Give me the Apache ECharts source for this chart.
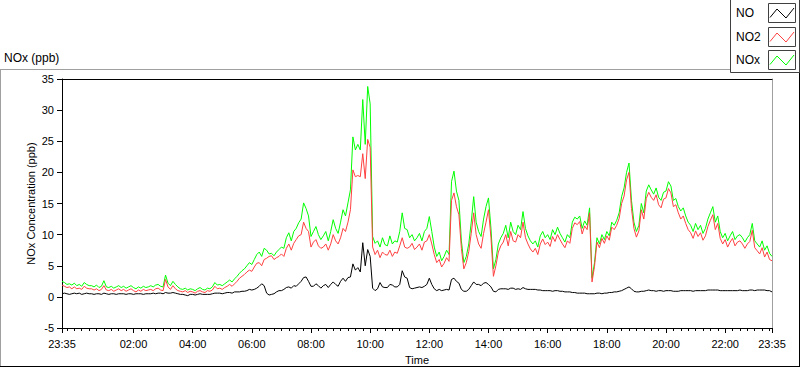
<!DOCTYPE html>
<html><head><meta charset="utf-8">
<script src="https://cdn.jsdelivr.net/npm/echarts@6/dist/echarts.min.js"></script>
<style>html,body{margin:0;padding:0;background:#fff}#c{width:800px;height:369px}</style>
</head><body><div id="c"></div>
<script>
// ---- data (5-minute samples from 23:35 to 23:35) ----
const startTime = '23:35';
const stepMinutes = 5;
const xTickLabels = ['23:35','02:00','04:00','06:00','08:00','10:00','12:00','14:00','16:00','18:00','20:00','22:00','23:35'];
const yMin = -5, yMax = 35, yStep = 5;
const seriesNames = ['NO', 'NO2', 'NOx'];
const seriesColors = ['#000000', '#ff4040', '#00ff00'];

const NOx = [
 2.5,2.3,2.0,2.1,1.9,2.2,1.8,2.0,1.7,2.3,2.0,1.8,
 1.8,1.6,1.9,1.5,1.7,2.6,1.6,1.5,1.7,1.4,1.6,1.8,
 1.5,1.7,1.4,1.6,1.8,1.5,1.3,1.6,1.4,1.7,1.5,1.6,
 1.8,1.6,1.9,2.0,1.7,1.6,3.5,2.2,1.8,2.5,2.0,1.6,
 1.3,1.2,1.4,1.1,1.3,1.2,1.0,1.3,1.5,1.2,1.1,1.4,
 1.3,1.6,2.3,1.9,2.0,1.8,2.1,2.4,2.7,2.4,2.9,3.3,
 3.8,4.2,4.5,5.0,5.5,5.2,6.0,6.8,7.2,6.5,7.8,7.5,
 6.9,7.0,6.6,7.2,7.6,8.0,7.8,9.5,10.3,9.0,10.5,11.0,
 11.9,12.5,15.1,14.2,13.0,9.7,10.5,11.3,10.0,9.2,9.8,10.5,
 9.0,10.5,12.4,11.0,10.2,12.0,14.0,13.0,15.1,17.2,25.7,23.6,
 24.5,23.6,31.7,24.5,33.8,31.0,9.7,8.6,9.0,8.0,9.5,8.4,
 8.2,9.8,8.5,9.0,8.8,10.5,13.5,11.0,10.8,9.5,10.0,9.0,
 9.5,10.2,9.0,10.5,11.0,12.9,10.5,8.0,6.5,7.2,5.8,6.5,
 7.5,6.8,18.5,20.2,17.0,15.5,9.0,5.5,6.5,8.5,12.0,16.1,
 12.0,10.5,9.7,12.5,14.5,15.9,11.0,4.5,6.0,8.5,9.5,10.2,
 11.5,9.5,12.0,10.5,10.0,11.5,10.8,13.7,11.0,9.8,9.0,8.5,
 9.0,8.0,9.8,10.5,9.5,10.0,9.2,10.8,10.0,11.2,10.2,9.5,
 8.8,10.0,9.5,12.0,12.8,12.5,13.0,11.0,12.2,11.5,14.3,3.0,
 5.5,9.5,8.5,10.0,9.2,10.5,9.8,12.0,11.5,12.3,13.5,16.1,
 17.5,20.0,21.5,15.5,12.0,10.5,11.5,15.0,13.5,17.0,18.0,17.2,
 16.5,17.5,16.0,15.5,16.8,17.0,18.5,17.8,15.5,15.8,14.5,13.8,
 14.3,13.0,12.0,11.5,10.5,11.8,10.8,11.5,10.2,11.0,12.5,13.5,
 14.5,12.0,13.0,10.5,9.5,10.2,9.0,9.8,10.5,9.2,9.8,10.0,
 9.5,8.8,9.5,10.0,11.8,9.0,8.5,8.0,9.0,7.5,8.2,7.0,
 6.5
];
const NO2 = [
 1.9,1.7,1.5,1.6,1.3,1.6,1.3,1.4,1.2,1.7,1.4,1.3,
 1.3,1.1,1.3,1.0,1.2,1.8,1.1,1.0,1.2,0.9,1.1,1.3,
 1.0,1.2,0.9,1.1,1.3,1.0,0.8,1.1,0.9,1.2,1.0,1.1,
 1.2,1.0,1.3,1.4,1.1,1.0,2.8,1.6,1.2,1.8,1.3,1.0,
 0.9,0.8,1.0,0.7,0.9,0.8,0.6,0.9,1.0,0.8,0.7,1.0,
 0.9,1.1,1.7,1.3,1.4,1.2,1.5,1.7,2.0,1.7,2.1,2.5,
 3.0,3.3,3.6,4.0,4.3,4.1,4.8,5.4,5.5,5.0,6.0,6.2,
 6.5,6.6,6.0,6.3,6.5,6.9,6.5,7.8,8.5,7.5,8.6,9.2,
 9.8,10.0,12.0,11.0,10.5,8.0,8.8,9.2,8.2,7.8,8.0,8.5,
 7.5,8.5,10.0,9.0,8.5,9.5,11.0,10.5,12.0,14.0,20.4,19.3,
 19.5,19.3,23.0,19.0,25.3,24.0,8.0,6.8,7.5,6.3,7.2,6.8,
 6.7,7.5,6.5,7.2,7.0,8.2,9.5,8.0,7.8,8.0,8.6,7.6,
 8.0,8.5,7.5,8.8,9.0,10.0,8.5,6.8,5.5,6.0,4.8,5.4,
 6.3,5.7,15.5,16.7,14.5,13.2,7.8,4.5,5.5,7.3,10.2,13.5,
 10.0,8.5,7.8,10.2,12.0,14.0,9.5,3.3,5.0,7.2,8.2,8.8,
 10.0,8.2,10.5,9.0,8.8,10.0,9.5,12.0,9.5,8.5,7.7,7.2,
 7.8,6.8,8.5,9.3,8.4,8.8,8.1,9.7,8.9,10.0,9.2,8.5,
 7.9,9.0,8.6,11.0,11.9,11.6,12.1,10.1,11.4,10.8,13.5,2.4,
 4.9,8.8,7.9,9.4,8.6,9.8,9.1,11.2,10.8,11.5,12.6,15.0,
 16.2,18.8,20.0,14.2,11.0,9.6,10.6,14.0,12.5,15.8,16.8,16.0,
 15.5,16.4,14.8,14.3,15.7,15.9,17.4,16.7,14.5,14.8,13.5,12.5,
 13.0,11.8,10.8,10.3,9.4,10.6,9.7,10.3,9.1,9.8,11.3,12.3,
 13.2,10.8,11.8,9.4,8.5,9.2,8.0,8.8,9.4,8.2,8.8,9.0,
 8.5,7.8,8.5,8.9,10.7,7.9,7.4,6.9,7.9,6.4,7.2,6.0,
 5.8
];
const NO = [
 0.5,0.6,0.5,0.4,0.5,0.6,0.5,0.6,0.4,0.5,0.6,0.5,
 0.5,0.4,0.5,0.5,0.4,0.6,0.5,0.4,0.5,0.5,0.4,0.5,
 0.5,0.5,0.4,0.5,0.5,0.4,0.5,0.5,0.5,0.4,0.5,0.5,
 0.5,0.6,0.5,0.6,0.6,0.5,0.7,0.6,0.6,0.7,0.6,0.5,
 0.4,0.4,0.3,0.2,0.4,0.4,0.3,0.4,0.5,0.4,0.4,0.4,
 0.4,0.5,0.6,0.6,0.6,0.5,0.6,0.7,0.7,0.6,0.8,0.8,
 0.8,0.9,0.9,1.0,1.2,1.1,1.2,1.4,1.7,2.1,1.8,0.6,
 0.3,0.4,0.5,0.8,1.0,1.0,1.2,1.5,1.6,1.4,1.8,1.7,
 2.1,2.5,3.1,3.2,2.5,1.7,1.7,2.1,1.8,1.4,1.8,2.0,
 1.5,2.0,2.4,2.0,1.7,2.5,3.0,2.5,3.1,3.2,5.3,4.3,
 4.7,4.0,8.7,5.0,7.6,6.5,1.4,1.0,1.3,2.3,1.6,1.5,
 1.5,2.0,1.9,1.6,1.6,2.0,4.2,3.2,3.0,1.5,1.3,1.4,
 1.5,1.6,1.5,1.7,2.0,3.0,2.0,1.3,1.0,1.2,1.0,1.1,
 1.2,1.1,2.8,3.0,2.5,2.2,1.2,0.9,0.9,1.2,1.8,2.4,
 2.0,2.0,1.8,2.2,2.3,2.0,1.6,0.9,0.8,1.2,1.3,1.3,
 1.3,1.2,1.4,1.4,1.2,1.3,1.2,1.5,1.3,1.2,1.2,1.2,
 1.2,1.1,1.1,1.0,1.0,1.0,1.0,0.9,1.0,1.0,0.9,0.9,
 0.8,0.8,0.8,0.7,0.7,0.6,0.6,0.6,0.6,0.5,0.5,0.5,
 0.5,0.6,0.6,0.5,0.6,0.6,0.7,0.7,0.8,0.8,0.9,1.0,
 1.2,1.4,1.6,1.3,0.9,0.8,0.8,0.9,0.9,1.0,1.1,1.0,
 1.0,0.9,1.0,1.0,0.9,1.0,1.0,1.0,0.9,0.9,0.9,1.0,
 1.0,1.0,1.0,1.0,0.9,1.0,1.0,1.0,1.0,1.0,1.1,1.1,
 1.1,1.1,1.1,1.0,1.0,1.0,1.0,1.0,1.0,1.0,1.0,1.1,
 1.0,1.0,1.0,1.1,1.1,1.0,1.1,1.1,1.1,1.1,1.0,1.0,
 0.8
];

// ---- chart ----
const FONT = "'Liberation Sans', Arial, sans-serif";
const pad = n => (n < 10 ? '0' : '') + n;
const [sh, sm] = startTime.split(':').map(Number);
const times = NO.map((_, i) => {
  const m = (sh * 60 + sm + i * stepMinutes) % 1440;
  return pad(Math.floor(m / 60)) + ':' + pad(m % 60);
});
const isMajor = (i, v) => xTickLabels.indexOf(v) >= 0;
const isMinor = (i, v) => (+String(v).split(':')[1]) % 15 === 0;

const chart = echarts.init(document.getElementById('c'), null, { renderer: 'svg', width: 800, height: 369 });

const legendRows = seriesNames.map((n, i) => ({ name: n, color: seriesColors[i], top: [3, 27, 50][i] }));
const legendGraphics = [{
  type: 'rect', shape: { x: 730.5, y: -1, width: 69, height: 73.5 },
  style: { fill: '#fff', stroke: '#404040', lineWidth: 1 }, z: 10
}];
legendRows.forEach(r => {
  legendGraphics.push({ type: 'text', x: 736, y: r.top + 10, z: 11,
    style: { text: r.name, font: '12px ' + FONT, fill: '#000', verticalAlign: 'middle' } });
  legendGraphics.push({ type: 'rect', shape: { x: 768.5, y: r.top + 0.5, width: 27, height: 19 }, z: 11,
    style: { fill: '#fff', stroke: '#404040', lineWidth: 1 } });
  legendGraphics.push({ type: 'polyline', z: 12,
    shape: { points: [[770, r.top + 14.5], [777, r.top + 6], [786, r.top + 15], [794, r.top + 5]] },
    style: { fill: 'none', stroke: r.color, lineWidth: 1 } });
});

const baseCat = { type: 'category', data: times, boundaryGap: false };

chart.setOption({
  animation: false,
  textStyle: { fontFamily: FONT },
  grid: { left: 62, right: 28, top: 79, bottom: 41, show: false, containLabel: false, outerBoundsMode: 'none' },
  graphic: [
    { type: 'line', shape: { x1: 0, y1: 69.5, x2: 731, y2: 69.5 }, style: { stroke: '#a0a0a0', lineWidth: 1 } },
    { type: 'line', shape: { x1: 0.5, y1: 69, x2: 0.5, y2: 366 }, style: { stroke: '#a0a0a0', lineWidth: 1 } },
    { type: 'line', shape: { x1: 0, y1: 366.5, x2: 800, y2: 366.5 }, style: { stroke: '#000', lineWidth: 1 } },
    { type: 'line', shape: { x1: 799.5, y1: 72, x2: 799.5, y2: 367 }, style: { stroke: '#000', lineWidth: 1 } },
    { type: 'text', x: 4, y: 58, style: { text: 'NOx (ppb)', font: '12px ' + FONT, fill: '#000', verticalAlign: 'middle' } }
  ].concat(legendGraphics),
  xAxis: [
    Object.assign({}, baseCat, {
      position: 'bottom',
      axisLine: { show: true, onZero: false, lineStyle: { color: '#000', width: 1 } },
      axisTick: { show: true, interval: isMajor, length: 5, lineStyle: { color: '#000' } },
      axisLabel: { show: true, interval: isMajor, margin: 10, color: '#000', fontSize: 11, fontFamily: FONT },
      splitLine: { show: false },
      name: 'Time', nameLocation: 'middle', nameGap: 26, nameMoveOverlap: false,
      nameTextStyle: { color: '#000', fontSize: 11, fontFamily: FONT }
    }),
    Object.assign({}, baseCat, {
      position: 'bottom',
      axisLine: { show: true, onZero: false, lineStyle: { color: '#000', width: 1 } },
      axisTick: { show: true, interval: isMinor, length: 3, lineStyle: { color: '#000' } },
      axisLabel: { show: true, interval: isMinor, formatter: () => '' },
      splitLine: { show: false }
    }),
    Object.assign({}, baseCat, {
      position: 'top',
      axisLine: { show: true, onZero: false, lineStyle: { color: '#000', width: 1 } },
      axisTick: { show: false }, axisLabel: { show: false }, splitLine: { show: false }
    })
  ],
  yAxis: [
    {
      type: 'value', min: yMin, max: yMax, interval: yStep, position: 'left',
      axisLine: { show: true, onZero: false, lineStyle: { color: '#000', width: 1 } },
      axisTick: { show: true, length: 5, lineStyle: { color: '#000' } },
      axisLabel: { margin: 8, color: '#000', fontSize: 11, fontFamily: FONT },
      splitLine: { show: false },
      name: 'NOx Concentration (ppb)', nameLocation: 'middle', nameGap: 26, nameRotate: 90, nameMoveOverlap: false,
      nameTextStyle: { color: '#000', fontSize: 11, fontFamily: FONT }
    },
    {
      type: 'value', min: yMin, max: yMax, interval: yStep, position: 'right',
      axisLine: { show: true, onZero: false, lineStyle: { color: '#a0a0a0', width: 1 } },
      axisTick: { show: false }, axisLabel: { show: false }, splitLine: { show: false }
    }
  ],
  series: [
    { name: 'NOx', type: 'line', data: NOx, xAxisIndex: 0, yAxisIndex: 0, symbol: 'none', showSymbol: false,
      lineStyle: { color: seriesColors[2], width: 1 }, itemStyle: { color: seriesColors[2] }, z: 2 },
    { name: 'NO2', type: 'line', data: NO2, xAxisIndex: 0, yAxisIndex: 0, symbol: 'none', showSymbol: false,
      lineStyle: { color: seriesColors[1], width: 1 }, itemStyle: { color: seriesColors[1] }, z: 3 },
    { name: 'NO', type: 'line', data: NO, xAxisIndex: 0, yAxisIndex: 0, symbol: 'none', showSymbol: false,
      lineStyle: { color: seriesColors[0], width: 1 }, itemStyle: { color: seriesColors[0] }, z: 4 }
  ]
});
</script>
</body></html>
